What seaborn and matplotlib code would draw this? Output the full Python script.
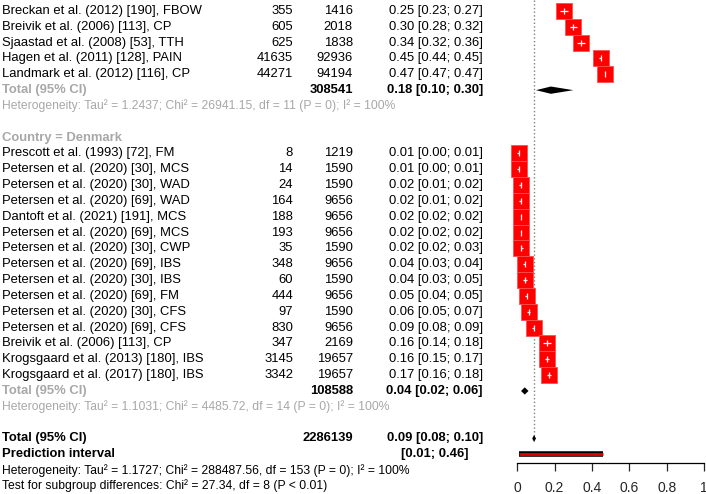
import numpy as np
import matplotlib
matplotlib.use("Agg")
import matplotlib.pyplot as plt
import matplotlib.transforms as mtrans
import pandas as pd
import seaborn as sns

# studies visible in the first (cut-off) subgroup
g1_labels = ["Breckan et al. (2012) [190], FBOW", "Breivik et al. (2006) [113], CP",
             "Sjaastad et al. (2008) [53], TTH", "Hagen et al. (2011) [128], PAIN",
             "Landmark et al. (2012) [116], CP"]
g1_events = [355, 605, 625, 41635, 44271]
g1_total = [1416, 2018, 1838, 92936, 94194]
g1_est = [0.25, 0.30, 0.34, 0.45, 0.47]
g1_lo = [0.23, 0.28, 0.32, 0.44, 0.47]
g1_hi = [0.27, 0.32, 0.36, 0.45, 0.47]
g1_sum = (308541, 0.18, 0.10, 0.30)
g1_het = "Heterogeneity: Tau² = 1.2437; Chi² = 26941.15, df = 11 (P = 0); I² = 100%"

# Denmark subgroup
dk_labels = ["Prescott et al. (1993) [72], FM", "Petersen et al. (2020) [30], MCS",
             "Petersen et al. (2020) [30], WAD", "Petersen et al. (2020) [69], WAD",
             "Dantoft et al. (2021) [191], MCS", "Petersen et al. (2020) [69], MCS",
             "Petersen et al. (2020) [30], CWP", "Petersen et al. (2020) [69], IBS",
             "Petersen et al. (2020) [30], IBS", "Petersen et al. (2020) [69], FM",
             "Petersen et al. (2020) [30], CFS", "Petersen et al. (2020) [69], CFS",
             "Breivik et al. (2006) [113], CP", "Krogsgaard et al. (2013) [180], IBS",
             "Krogsgaard et al. (2017) [180], IBS"]
dk_events = [8, 14, 24, 164, 188, 193, 35, 348, 60, 444, 97, 830, 347, 3145, 3342]
dk_total = [1219, 1590, 1590, 9656, 9656, 9656, 1590, 9656, 1590, 9656, 1590, 9656, 2169, 19657, 19657]
dk_est = [0.01, 0.01, 0.02, 0.02, 0.02, 0.02, 0.02, 0.04, 0.04, 0.05, 0.06, 0.09, 0.16, 0.16, 0.17]
dk_lo = [0.00, 0.00, 0.01, 0.01, 0.02, 0.02, 0.02, 0.03, 0.03, 0.04, 0.05, 0.08, 0.14, 0.15, 0.16]
dk_hi = [0.01, 0.01, 0.02, 0.02, 0.02, 0.02, 0.03, 0.04, 0.05, 0.05, 0.07, 0.09, 0.18, 0.17, 0.18]
dk_sum = (108588, 0.04, 0.02, 0.06)
dk_het = "Heterogeneity: Tau² = 1.1031; Chi² = 4485.72, df = 14 (P = 0); I² = 100%"

# overall
all_sum = (2286139, 0.09, 0.08, 0.10)
pred_int = (0.01, 0.46)
all_het = "Heterogeneity: Tau² = 1.1727; Chi² = 288487.56, df = 153 (P = 0); I² = 100%"
sub_test = "Test for subgroup differences: Chi² = 27.34, df = 8 (P < 0.01)"

sns.set_style("white")
plt.rcParams["font.family"] = ["Liberation Sans", "DejaVu Sans"]

W, H = 706, 494
fig = plt.figure(figsize=(W / 100, H / 100), dpi=100)
ax = fig.add_axes([517.3 / W, 1 - 463 / H, 186.7 / W, 463 / H])
ax.set_xlim(0, 1)
ax.set_ylim(28.55, -0.695)

GREY = "#a8a8a8"
FS = 9.4
FS_SMALL = 8.7
tr = mtrans.blended_transform_factory(fig.transFigure, ax.transData)


def txt(px, row, s, ha="left", color="black", bold=False, size=FS):
    ax.text(px / W, row, s, transform=tr, ha=ha, va="center", color=color,
            fontsize=size, fontweight="bold" if bold else "normal", clip_on=False)


def ci(est, lo, hi):
    return f"{est:.2f} [{lo:.2f}; {hi:.2f}]"


rows_study = []
ests, los, his = [], [], []

# group 1
r = 0
for lab, e, n, m, l, h in zip(g1_labels, g1_events, g1_total, g1_est, g1_lo, g1_hi):
    txt(2, r, lab)
    txt(293, r, str(e), ha="right")
    txt(353, r, str(n), ha="right")
    txt(483, r, ci(m, l, h), ha="right")
    rows_study.append(r); ests.append(m); los.append(l); his.append(h)
    r += 1
diamonds = [(r, g1_sum[1], g1_sum[2], g1_sum[3])]
txt(2, r, "Total (95% CI)", color=GREY, bold=True)
txt(353, r, str(g1_sum[0]), ha="right", bold=True)
txt(483, r, ci(*g1_sum[1:]), ha="right", bold=True)
r += 1
txt(2, r, g1_het, color=GREY, size=FS_SMALL)
r += 2

# Denmark
txt(2, r, "Country = Denmark", color=GREY, bold=True)
r += 1
for lab, e, n, m, l, h in zip(dk_labels, dk_events, dk_total, dk_est, dk_lo, dk_hi):
    txt(2, r, lab)
    txt(293, r, str(e), ha="right")
    txt(353, r, str(n), ha="right")
    txt(483, r, ci(m, l, h), ha="right")
    rows_study.append(r); ests.append(m); los.append(l); his.append(h)
    r += 1
diamonds.append((r, dk_sum[1], dk_sum[2], dk_sum[3]))
txt(2, r, "Total (95% CI)", color=GREY, bold=True)
txt(353, r, str(dk_sum[0]), ha="right", bold=True)
txt(483, r, ci(*dk_sum[1:]), ha="right", bold=True)
r += 1
txt(2, r, dk_het, color=GREY, size=FS_SMALL)
r += 2

# overall
diamonds.append((r, all_sum[1], all_sum[2], all_sum[3]))
overall_row = r
txt(2, r, "Total (95% CI)", bold=True)
txt(353, r, str(all_sum[0]), ha="right", bold=True)
txt(483, r, ci(*all_sum[1:]), ha="right", bold=True)
r += 1
pi_row = r
txt(2, r, "Prediction interval", bold=True)
txt(468, r, f"[{pred_int[0]:.2f}; {pred_int[1]:.2f}]", ha="right", bold=True)
r += 1
txt(2, r, all_het, size=FS_SMALL)
r += 1
txt(2, r, sub_test, size=FS_SMALL)

# reference line at overall estimate
ax.vlines(all_sum[1], -0.7, overall_row - 0.2, colors="grey", linestyles=":", lw=1)

df = pd.DataFrame({"row": rows_study, "est": ests, "lo": los, "hi": his})
sns.scatterplot(data=df, x="est", y="row", marker="s", s=120, color="red",
                edgecolor="#ff5050", linewidth=0.6, legend=False, ax=ax, zorder=3,
                clip_on=False)
ax.hlines(df["row"], df["lo"], df["hi"], colors="white", lw=0.9, zorder=4, clip_on=False)
ax.scatter(df["est"], df["row"], marker="|", s=14, c="white", lw=0.9, zorder=5, clip_on=False)

for row, m, l, h in diamonds:
    ax.fill([l, m, h, m], [row, row - 0.23, row, row + 0.23], color="black", lw=0, zorder=3)

ax.plot(pred_int, [pi_row, pi_row], color="black", lw=4, solid_capstyle="butt", zorder=3)
ax.plot(pred_int, [pi_row, pi_row], color="#e00000", lw=2, solid_capstyle="butt", zorder=4)

for s in ["top", "right", "left"]:
    ax.spines[s].set_visible(False)
ax.spines["bottom"].set_bounds(0, 1)
ax.spines["bottom"].set_color("black")
ax.spines["bottom"].set_linewidth(0.9)
ax.set_yticks([])
ax.set_xticks(np.arange(0, 1.01, 0.2))
ax.set_xticklabels(["0", "0.2", "0.4", "0.6", "0.8", "1"])
ax.tick_params(axis="x", direction="out", length=5.5, width=0.9, pad=7.5, labelsize=10, bottom=True)
ax.set_xlabel("")
ax.set_ylabel("")

fig.savefig("out.png", dpi=100)
